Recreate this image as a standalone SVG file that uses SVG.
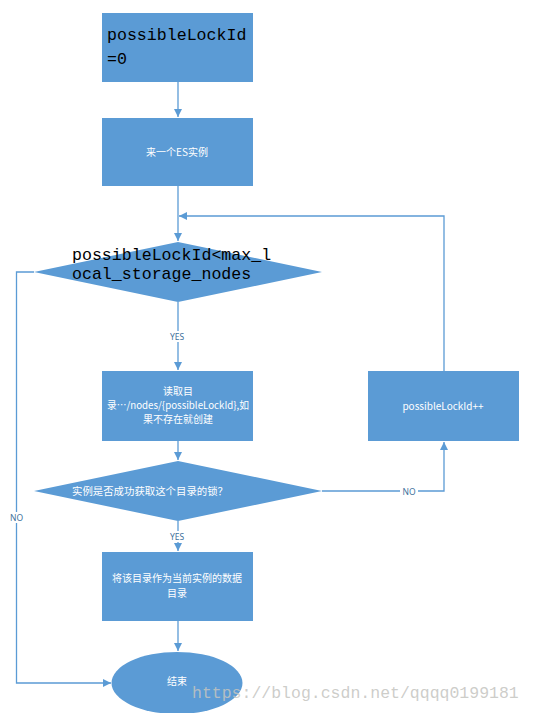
<svg xmlns="http://www.w3.org/2000/svg" width="533" height="713" viewBox="0 0 533 713">
<style>
.shape{fill:#5B9BD5;}
.line{fill:none;stroke:#5B9BD5;stroke-width:1.3;}
.mono{font-family:"Liberation Mono","DejaVu Sans Mono",monospace;font-size:16.6px;fill:#000;}
.cn{font-family:"Noto Sans CJK SC","Noto Sans",sans-serif;font-size:10px;fill:#fff;}
.lbl{font-family:"Noto Sans","Noto Sans CJK SC",sans-serif;font-size:8.5px;fill:#41719C;text-anchor:middle;}
.wm{font-family:"Liberation Mono","DejaVu Sans Mono",monospace;font-size:16.5px;fill:#c4c4bf;fill-opacity:0.85;}
</style>
<defs>
<marker id="arr" markerUnits="userSpaceOnUse" markerWidth="9" markerHeight="9" refX="8" refY="4" orient="auto">
<path d="M0,0 L8,4 L0,8 z" fill="#5B9BD5"/>
</marker>
</defs>
<rect width="533" height="713" fill="#fff"/>
<g id="connectors">
<path class="line" d="M178,82 V117" marker-end="url(#arr)"/>
<path class="line" d="M178,186 V241" marker-end="url(#arr)"/>
<path class="line" d="M444,371 V216 H179" marker-end="url(#arr)"/>
<path class="line" d="M178,302 V370" marker-end="url(#arr)"/>
<path class="line" d="M178,441 V460" marker-end="url(#arr)"/>
<path class="line" d="M322,491 H444 V442" marker-end="url(#arr)"/>
<path class="line" d="M178,521 V551" marker-end="url(#arr)"/>
<path class="line" d="M178,621 V651" marker-end="url(#arr)"/>
<path class="line" d="M34,272 H16.5 V683 H111" marker-end="url(#arr)"/>
<rect x="166" y="331" width="24" height="11" fill="#fff"/>
<text class="lbl" x="177" y="339.5">YES</text>
<rect x="166" y="531" width="24" height="11" fill="#fff"/>
<text class="lbl" x="177" y="540">YES</text>
<rect x="400" y="487" width="18" height="10" fill="#fff"/>
<text class="lbl" x="409" y="494.5">NO</text>
<rect x="8" y="512" width="17" height="11" fill="#fff"/>
<text class="lbl" x="16.5" y="520.5">NO</text>
</g>
<g id="start">
<rect class="shape" x="102" y="13" width="151" height="69"/>
<text class="mono" x="107" y="40">possibleLockId</text>
<text class="mono" x="107" y="64">=0</text>
</g>
<g id="es">
<rect class="shape" x="102" y="118" width="151" height="68"/>
<text class="cn" x="177" y="155.5" text-anchor="middle">来一个ES实例</text>
</g>
<g id="cond1">
<polygon class="shape" points="178,242 322,272 178,302 34,272"/>
<text class="mono" x="72" y="260">possibleLockId&lt;max_l</text>
<text class="mono" x="72" y="279">ocal_storage_nodes</text>
</g>
<g id="read">
<rect class="shape" x="102" y="371" width="151" height="70"/>
<text class="cn" x="178" y="394.5" text-anchor="middle" font-size="9.5">读取目</text>
<text class="cn" x="178" y="408.5" text-anchor="middle" font-size="9.5" textLength="142" lengthAdjust="spacingAndGlyphs">录…/nodes/{possibleLockId},如</text>
<text class="cn" x="178" y="422.5" text-anchor="middle" font-size="9.5">果不存在就创建</text>
</g>
<g id="inc">
<rect class="shape" x="368" y="371" width="151" height="70"/>
<text class="cn" x="443" y="409.5" text-anchor="middle">possibleLockId++</text>
</g>
<g id="cond2">
<polygon class="shape" points="178,461 322,491 178,521 34,491"/>
<text class="cn" x="72" y="495" font-size="10.4" textLength="156" lengthAdjust="spacingAndGlyphs">实例是否成功获取这个目录的锁？</text>
</g>
<g id="use">
<rect class="shape" x="102" y="552" width="151" height="69"/>
<text class="cn" x="177" y="582" text-anchor="middle" font-size="10.7">将该目录作为当前实例的数据</text>
<text class="cn" x="177" y="597" text-anchor="middle" font-size="10.7">目录</text>
</g>
<g id="end">
<ellipse class="shape" cx="177" cy="683" rx="65.5" ry="31"/>
<text class="cn" x="177" y="684.5" text-anchor="middle" font-size="12">结束</text>
</g>
<text class="wm" x="192" y="698">https://blog.csdn.net/qqqq0199181</text>
</svg>
